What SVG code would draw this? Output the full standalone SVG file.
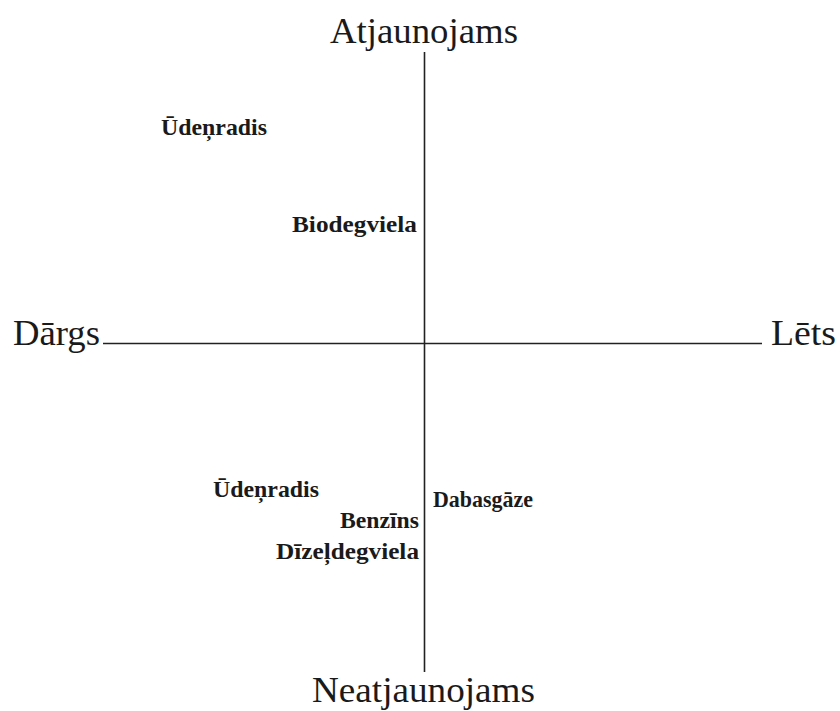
<svg xmlns="http://www.w3.org/2000/svg" width="840" height="711" viewBox="0 0 840 711">
<style>
.axis{stroke:#222;stroke-width:1.6;fill:none}
.title{font-family:"Liberation Serif","Times New Roman",serif;font-size:36px;fill:#1a1a1a}
.lbl{font-family:"Liberation Serif","Times New Roman",serif;font-size:23px;font-weight:bold;fill:#1a1a1a}
</style>
<rect width="840" height="711" fill="#fff"/>
<g id="connectors">
<line class="axis" x1="424.5" y1="52" x2="424.5" y2="672"/>
<line class="axis" x1="103" y1="343.5" x2="762" y2="343.5"/>
</g>
<g id="top"><text class="title" x="330" y="43" textLength="188" lengthAdjust="spacingAndGlyphs">Atjaunojams</text></g>
<g id="left"><text class="title" x="13" y="345" textLength="87" lengthAdjust="spacingAndGlyphs">Dārgs</text></g>
<g id="right"><text class="title" x="771" y="345" textLength="65" lengthAdjust="spacingAndGlyphs">Lēts</text></g>
<g id="bottom"><text class="title" x="312" y="702" textLength="223" lengthAdjust="spacingAndGlyphs">Neatjaunojams</text></g>
<g id="udenradis1"><text class="lbl" x="161" y="135" textLength="106" lengthAdjust="spacingAndGlyphs">Ūdeņradis</text></g>
<g id="biodegviela"><text class="lbl" x="292" y="232" textLength="125" lengthAdjust="spacingAndGlyphs">Biodegviela</text></g>
<g id="udenradis2"><text class="lbl" x="213" y="497" textLength="106" lengthAdjust="spacingAndGlyphs">Ūdeņradis</text></g>
<g id="benzins"><text class="lbl" x="340" y="528" textLength="79" lengthAdjust="spacingAndGlyphs">Benzīns</text></g>
<g id="dizeldegviela"><text class="lbl" x="276" y="559" textLength="143" lengthAdjust="spacingAndGlyphs">Dīzeļdegviela</text></g>
<g id="dabasgaze"><text class="lbl" x="433" y="507" textLength="100" lengthAdjust="spacingAndGlyphs">Dabasgāze</text></g>
</svg>
